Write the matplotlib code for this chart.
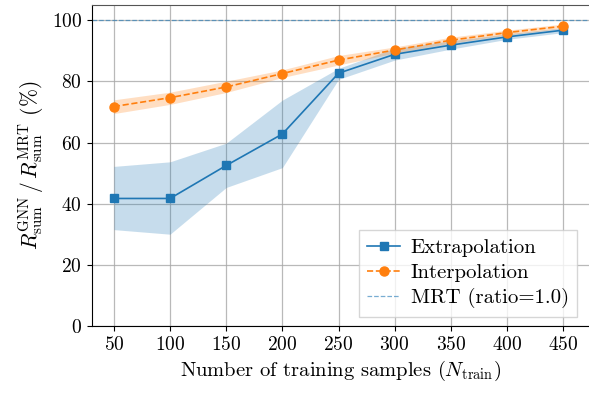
import matplotlib
matplotlib.use("Agg")
import matplotlib.pyplot as plt

plt.rcParams.update({
    "font.family": "serif",
    "font.serif": ["cmr10", "DejaVu Serif"],
    "mathtext.fontset": "cm",
    "axes.formatter.use_mathtext": True,
    "font.size": 14,
})

# data
n_train = [50, 100, 150, 200, 250, 300, 350, 400, 450]
extrap = [41.7, 41.7, 52.5, 62.8, 82.7, 88.9, 91.9, 94.6, 96.8]
extrap_lo = [31.5, 30.0, 45.3, 51.8, 80.7, 87.0, 90.6, 93.8, 96.0]
extrap_hi = [52.2, 53.7, 59.8, 73.9, 84.3, 90.9, 93.3, 95.6, 97.6]
interp = [71.8, 74.7, 78.2, 82.6, 87.0, 90.3, 93.5, 96.0, 98.1]
interp_lo = [69.5, 72.5, 76.4, 81.3, 85.4, 89.3, 92.5, 95.2, 97.4]
interp_hi = [74.0, 76.5, 80.1, 83.8, 88.5, 91.3, 94.5, 96.8, 98.8]

fig, ax = plt.subplots(figsize=(5.89, 3.94), dpi=100)
fig.subplots_adjust(left=0.156, right=1.0, top=0.987, bottom=0.173)

ax.fill_between(n_train, extrap_lo, extrap_hi, color="tab:blue", alpha=0.25, lw=0)
ax.plot(n_train, extrap, "-s", color="tab:blue", ms=5.5, lw=1.2, label="Extrapolation")
ax.fill_between(n_train, interp_lo, interp_hi, color="tab:orange", alpha=0.25, lw=0)
ax.plot(n_train, interp, "--o", color="tab:orange", ms=6.5, lw=1.2, label="Interpolation")
ax.axhline(100, color="tab:blue", ls="--", lw=0.9, alpha=0.6, label="MRT (ratio=1.0)")

ax.set_xlim(30.4, 473)
ax.set_ylim(0, 105)
ax.set_xticks(n_train)
ax.set_yticks([0, 20, 40, 60, 80, 100])
ax.tick_params(labelsize=14)
ax.grid(True, color="#a8a8a8", lw=0.9, alpha=0.8)
ax.set_axisbelow(True)
ax.spines["top"].set_color("#555555")
ax.spines["right"].set_visible(False)
ax.set_xlabel(r"Number of training samples ($N_{\mathrm{train}}$)", fontsize=14.8)
ax.set_ylabel(r"$R^{\mathrm{GNN}}_{\mathrm{sum}}\,/\,R^{\mathrm{MRT}}_{\mathrm{sum}}$ (%)", fontsize=15.5)
ax.legend(loc="lower right", bbox_to_anchor=(0.98, 0.196), bbox_transform=fig.transFigure,
          borderaxespad=0, fancybox=False, edgecolor="#cccccc", framealpha=0.8,
          fontsize=15, handlelength=1.6, borderpad=0.4, labelspacing=0.3, handletextpad=0.5)

fig.savefig("out.png", dpi=100)
